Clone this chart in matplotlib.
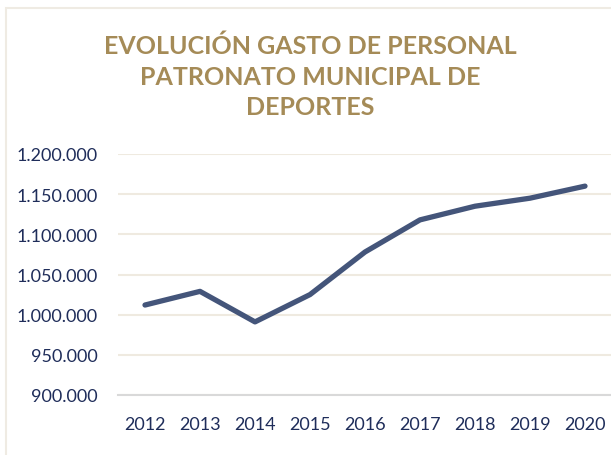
import matplotlib.pyplot as plt
from matplotlib.patches import Rectangle
from matplotlib.ticker import FuncFormatter

# Datos
anios = ["2012", "2013", "2014", "2015", "2016", "2017", "2018", "2019", "2020"]
gasto = [1012000, 1029000, 991000, 1025000, 1078000, 1118000, 1135000, 1145000, 1160000]

fig = plt.figure(figsize=(6.11, 4.56), dpi=100)

# Marco claro del gráfico
fig.patches.append(Rectangle((6 / 611, -0.1), 1.2, 1.1 - 9 / 456, transform=fig.transFigure,
                             fill=False, edgecolor="#EFEBE3", linewidth=1.5))

ax = fig.add_axes([117.5 / 611, 1 - 396 / 456, 495 / 611, 241 / 456])
ax.plot(range(len(anios)), gasto, color="#44557A", linewidth=3.8, solid_capstyle="round")

ax.set_xlim(-0.5, len(anios) - 0.5)
ax.set_ylim(900000, 1200000)
ax.set_yticks(range(900000, 1200001, 50000))
ax.yaxis.set_major_formatter(FuncFormatter(lambda v, p: f"{int(v):,}".replace(",", ".")))
ax.set_xticks(range(len(anios)))
ax.set_xticklabels(anios)

ax.grid(axis="y", color="#EFEAE0", linewidth=1.5)
ax.set_axisbelow(True)
for s in ["top", "right", "left"]:
    ax.spines[s].set_visible(False)
ax.spines["bottom"].set_color("#D9D9D9")
ax.spines["bottom"].set_linewidth(1.5)
ax.tick_params(length=0, labelsize=13, labelcolor="#1F2D5A")
ax.tick_params(axis="y", pad=14)
ax.tick_params(axis="x", pad=15)
for lab in ax.get_xticklabels() + ax.get_yticklabels():
    lab.set_fontfamily("Lato")

fig.text(310 / 611, 1 - 77 / 456, "EVOLUCIÓN GASTO DE PERSONAL\nPATRONATO MUNICIPAL DE\nDEPORTES",
         ha="center", va="center", fontsize=18, fontweight="bold", color="#A58B57",
         family="Lato", linespacing=1.4)

fig.savefig("out.png", dpi=100)
